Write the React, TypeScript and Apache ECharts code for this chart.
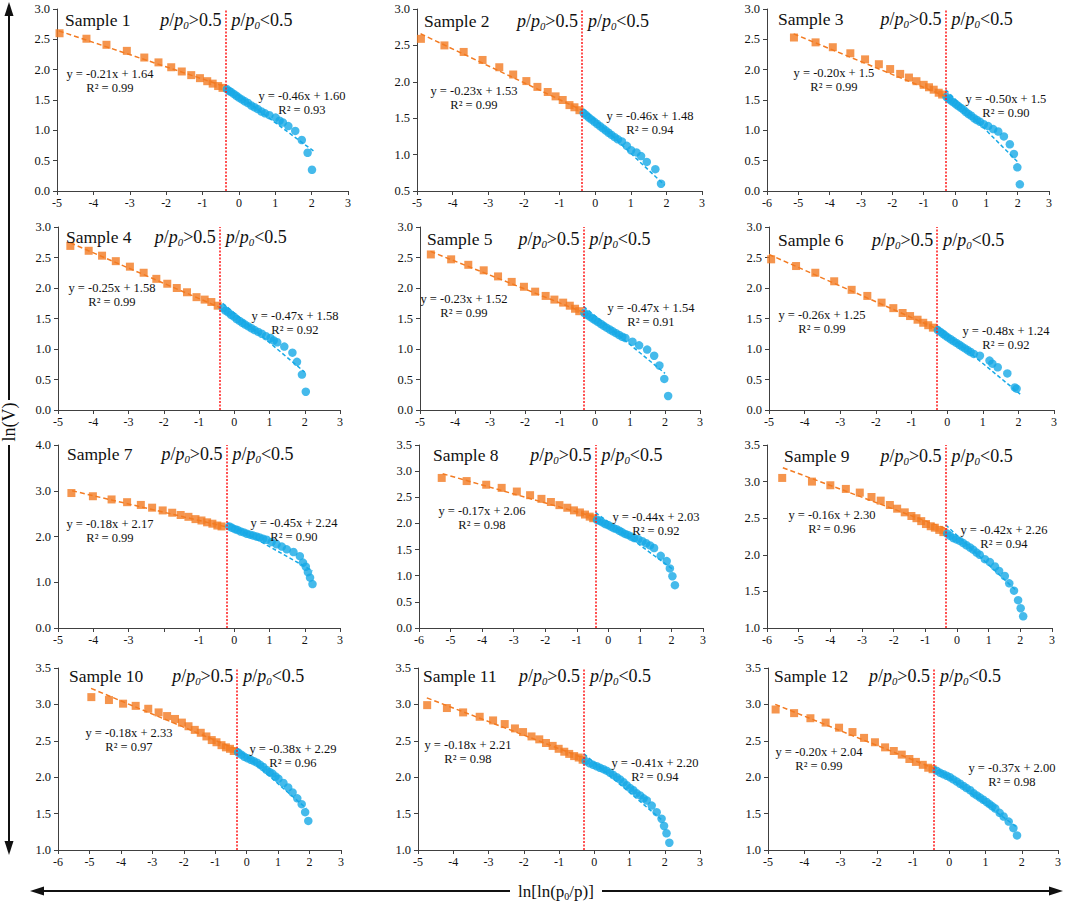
import { useEffect, useRef } from "react";
import * as echarts from "echarts";

// ---------- data ----------
const sampleNames = ["Sample 1", "Sample 2", "Sample 3", "Sample 4", "Sample 5", "Sample 6", "Sample 7", "Sample 8", "Sample 9", "Sample 10", "Sample 11", "Sample 12"];
const xMins = [-5, -5, -6, -5, -5, -5, -5, -6, -6, -6, -5, -5];
const xMaxs = [3, 3, 3, 3, 3, 3, 3, 3, 3, 3, 3, 3];
const yMins = [0, 0.5, 0, 0, 0, 0, 0, 0, 1, 1, 1, 1];
const yMaxs = [3, 3, 3, 3, 3, 3, 4, 3.5, 3.5, 3.5, 3.5, 3.5];
const yIntervals = [0.5, 0.5, 0.5, 0.5, 0.5, 0.5, 1, 0.5, 0.5, 0.5, 0.5, 0.5];
const hiddenXTicks = [[], [], [], [], [], [], [-2], [], [], [], [], []];
const splitX = [-0.37, -0.37, -0.3, -0.41, -0.33, -0.28, -0.22, -0.41, -0.36, -0.3, -0.29, -0.42];

const orangeS1 = [[-4.93, 2.6], [-4.19, 2.51], [-3.64, 2.41], [-3.08, 2.31], [-2.6, 2.2], [-2.21, 2.12], [-1.86, 2.04], [-1.57, 1.97], [-1.31, 1.91], [-1.07, 1.86], [-0.87, 1.81], [-0.72, 1.77], [-0.57, 1.73], [-0.45, 1.7]];
const blueS1 = [[-0.33, 1.68], [-0.27, 1.65], [-0.21, 1.63], [-0.14, 1.6], [-0.07, 1.57], [0.0, 1.54], [0.08, 1.51], [0.16, 1.48], [0.25, 1.45], [0.34, 1.41], [0.43, 1.38], [0.52, 1.35], [0.62, 1.31], [0.72, 1.28], [0.84, 1.25], [1.01, 1.21], [1.12, 1.16], [1.21, 1.13], [1.36, 1.07], [1.55, 0.99], [1.73, 0.84], [1.89, 0.63], [2.01, 0.35]];
const orangeS2 = [[-4.89, 2.59], [-4.23, 2.5], [-3.69, 2.41], [-3.16, 2.3], [-2.69, 2.2], [-2.3, 2.1], [-1.93, 2.01], [-1.62, 1.93], [-1.33, 1.86], [-1.11, 1.8], [-0.91, 1.75], [-0.72, 1.68], [-0.58, 1.65], [-0.44, 1.61]];
const blueS2 = [[-0.32, 1.57], [-0.25, 1.54], [-0.18, 1.51], [-0.1, 1.48], [-0.02, 1.45], [0.06, 1.42], [0.14, 1.39], [0.22, 1.36], [0.3, 1.33], [0.38, 1.3], [0.46, 1.27], [0.55, 1.24], [0.64, 1.21], [0.75, 1.18], [0.89, 1.12], [1.01, 1.06], [1.16, 1.03], [1.29, 0.98], [1.45, 0.9], [1.69, 0.8], [1.85, 0.6]];
const orangeS3 = [[-5.14, 2.53], [-4.45, 2.45], [-3.9, 2.37], [-3.34, 2.27], [-2.87, 2.17], [-2.43, 2.09], [-2.07, 2.01], [-1.75, 1.93], [-1.47, 1.87], [-1.23, 1.81], [-1.0, 1.75], [-0.83, 1.71], [-0.68, 1.67], [-0.52, 1.62], [-0.41, 1.59]];
const blueS3 = [[-0.27, 1.55], [-0.2, 1.52], [-0.13, 1.49], [-0.05, 1.46], [0.03, 1.43], [0.11, 1.4], [0.19, 1.37], [0.27, 1.34], [0.35, 1.3], [0.43, 1.27], [0.52, 1.24], [0.61, 1.2], [0.7, 1.17], [0.8, 1.14], [0.92, 1.1], [1.06, 1.07], [1.22, 1.02], [1.38, 0.98], [1.56, 0.9], [1.75, 0.77], [1.88, 0.61], [1.99, 0.39], [2.07, 0.11]];
const orangeS4 = [[-4.65, 2.69], [-4.13, 2.61], [-3.75, 2.53], [-3.36, 2.44], [-2.96, 2.35], [-2.57, 2.25], [-2.21, 2.15], [-1.9, 2.07], [-1.63, 2.0], [-1.34, 1.93], [-1.07, 1.85], [-0.84, 1.81], [-0.65, 1.77], [-0.47, 1.71]];
const blueS4 = [[-0.32, 1.67], [-0.25, 1.63], [-0.17, 1.6], [-0.09, 1.56], [-0.01, 1.53], [0.07, 1.49], [0.15, 1.46], [0.23, 1.43], [0.31, 1.4], [0.4, 1.37], [0.49, 1.34], [0.58, 1.31], [0.68, 1.28], [0.78, 1.25], [0.9, 1.21], [1.03, 1.18], [1.12, 1.14], [1.22, 1.11], [1.42, 1.04], [1.65, 0.94], [1.78, 0.79], [1.92, 0.58], [2.03, 0.3]];
const orangeS5 = [[-4.69, 2.55], [-4.11, 2.47], [-3.62, 2.38], [-3.18, 2.29], [-2.77, 2.19], [-2.38, 2.1], [-2.03, 2.02], [-1.71, 1.94], [-1.41, 1.87], [-1.16, 1.81], [-0.91, 1.76], [-0.72, 1.71], [-0.57, 1.66], [-0.45, 1.62]];
const blueS5 = [[-0.3, 1.59], [-0.23, 1.56], [-0.15, 1.53], [-0.07, 1.5], [0.01, 1.47], [0.09, 1.44], [0.17, 1.41], [0.25, 1.38], [0.33, 1.35], [0.42, 1.32], [0.51, 1.29], [0.6, 1.26], [0.69, 1.23], [0.78, 1.2], [0.87, 1.18], [1.07, 1.12], [1.26, 1.06], [1.49, 0.99], [1.69, 0.89], [1.84, 0.73], [1.98, 0.51], [2.09, 0.23]];
const orangeS6 = [[-4.94, 2.47], [-4.24, 2.36], [-3.7, 2.25], [-3.17, 2.11], [-2.68, 1.97], [-2.24, 1.87], [-1.84, 1.76], [-1.51, 1.67], [-1.25, 1.59], [-1.04, 1.54], [-0.83, 1.48], [-0.67, 1.43], [-0.53, 1.39], [-0.4, 1.35]];
const blueS6 = [[-0.26, 1.31], [-0.19, 1.28], [-0.12, 1.25], [-0.05, 1.22], [0.02, 1.19], [0.1, 1.16], [0.18, 1.13], [0.26, 1.1], [0.34, 1.07], [0.42, 1.04], [0.5, 1.01], [0.58, 0.98], [0.66, 0.95], [0.75, 0.92], [0.92, 0.89], [1.19, 0.81], [1.27, 0.76], [1.42, 0.7], [1.69, 0.6], [1.9, 0.37], [1.95, 0.35]];
const orangeS7 = [[-4.62, 2.95], [-4.01, 2.88], [-3.48, 2.81], [-3.04, 2.75], [-2.65, 2.69], [-2.33, 2.63], [-2.03, 2.57], [-1.76, 2.52], [-1.52, 2.47], [-1.3, 2.43], [-1.1, 2.38], [-0.93, 2.35], [-0.77, 2.31], [-0.62, 2.28], [-0.48, 2.24], [-0.36, 2.22]];
const blueS7 = [[-0.14, 2.22], [-0.06, 2.19], [0.02, 2.16], [0.1, 2.14], [0.18, 2.11], [0.27, 2.09], [0.36, 2.06], [0.45, 2.04], [0.54, 2.02], [0.63, 2.0], [0.72, 1.98], [0.82, 1.95], [0.92, 1.93], [1.06, 1.88], [1.2, 1.83], [1.35, 1.78], [1.49, 1.72], [1.68, 1.66], [1.86, 1.57], [1.95, 1.43], [2.03, 1.34], [2.09, 1.22], [2.15, 1.1], [2.22, 0.96]];
const orangeS8 = [[-5.28, 2.87], [-4.49, 2.81], [-3.87, 2.74], [-3.38, 2.68], [-2.9, 2.61], [-2.48, 2.54], [-2.12, 2.47], [-1.82, 2.41], [-1.55, 2.35], [-1.3, 2.3], [-1.09, 2.25], [-0.9, 2.21], [-0.74, 2.17], [-0.59, 2.13], [-0.48, 2.1]];
const blueS8 = [[-0.36, 2.07], [-0.28, 2.05], [-0.19, 2.02], [-0.1, 1.99], [-0.01, 1.97], [0.08, 1.94], [0.17, 1.91], [0.26, 1.89], [0.35, 1.86], [0.44, 1.83], [0.53, 1.8], [0.62, 1.78], [0.72, 1.75], [0.82, 1.72], [0.95, 1.7], [1.08, 1.66], [1.2, 1.62], [1.32, 1.58], [1.45, 1.53], [1.66, 1.38], [1.85, 1.28], [1.95, 1.14], [2.03, 0.99], [2.11, 0.82]];
const orangeS9 = [[-5.52, 3.05], [-4.58, 3.0], [-4.0, 2.95], [-3.51, 2.9], [-3.07, 2.85], [-2.7, 2.79], [-2.41, 2.74], [-2.12, 2.68], [-1.89, 2.63], [-1.65, 2.58], [-1.44, 2.53], [-1.28, 2.5], [-1.13, 2.46], [-0.98, 2.42], [-0.83, 2.39], [-0.7, 2.37], [-0.56, 2.34], [-0.43, 2.31]];
const blueS9 = [[-0.31, 2.29], [-0.22, 2.26], [-0.12, 2.23], [-0.02, 2.21], [0.09, 2.19], [0.2, 2.16], [0.3, 2.13], [0.41, 2.1], [0.51, 2.07], [0.62, 2.03], [0.72, 2.0], [0.88, 1.94], [1.04, 1.9], [1.2, 1.84], [1.33, 1.78], [1.51, 1.71], [1.65, 1.61], [1.8, 1.51], [1.93, 1.38], [2.01, 1.27], [2.09, 1.16]];
const orangeS10 = [[-4.94, 3.1], [-4.38, 3.06], [-3.93, 3.01], [-3.53, 2.98], [-3.13, 2.94], [-2.8, 2.89], [-2.53, 2.84], [-2.28, 2.8], [-2.06, 2.75], [-1.85, 2.7], [-1.65, 2.65], [-1.46, 2.61], [-1.28, 2.56], [-1.11, 2.51], [-0.96, 2.48], [-0.8, 2.44], [-0.66, 2.41], [-0.53, 2.39], [-0.41, 2.36]];
const blueS10 = [[-0.27, 2.34], [-0.17, 2.31], [-0.07, 2.28], [0.03, 2.26], [0.13, 2.24], [0.23, 2.22], [0.33, 2.2], [0.43, 2.17], [0.53, 2.14], [0.63, 2.1], [0.73, 2.07], [0.82, 2.05], [0.92, 2.01], [1.01, 1.98], [1.17, 1.92], [1.32, 1.86], [1.46, 1.79], [1.61, 1.71], [1.75, 1.63], [1.86, 1.52], [1.96, 1.4]];
const orangeS11 = [[-4.74, 2.99], [-4.18, 2.95], [-3.72, 2.89], [-3.25, 2.83], [-2.87, 2.78], [-2.54, 2.73], [-2.25, 2.67], [-2.02, 2.62], [-1.78, 2.56], [-1.56, 2.52], [-1.37, 2.47], [-1.18, 2.43], [-1.01, 2.39], [-0.85, 2.35], [-0.71, 2.32], [-0.57, 2.29], [-0.44, 2.27], [-0.33, 2.24]];
const blueS11 = [[-0.24, 2.22], [-0.13, 2.19], [-0.03, 2.17], [0.07, 2.15], [0.16, 2.13], [0.26, 2.11], [0.35, 2.09], [0.45, 2.06], [0.54, 2.03], [0.64, 2.0], [0.73, 1.97], [0.83, 1.93], [0.92, 1.89], [1.02, 1.85], [1.11, 1.82], [1.2, 1.78], [1.3, 1.75], [1.4, 1.71], [1.49, 1.68], [1.63, 1.61], [1.77, 1.52], [1.91, 1.43], [1.98, 1.33], [2.05, 1.23], [2.13, 1.1]];
const orangeS12 = [[-4.79, 2.93], [-4.28, 2.88], [-3.83, 2.81], [-3.41, 2.75], [-3.04, 2.68], [-2.67, 2.62], [-2.35, 2.54], [-2.05, 2.48], [-1.77, 2.41], [-1.53, 2.36], [-1.31, 2.31], [-1.1, 2.25], [-0.92, 2.21], [-0.73, 2.17], [-0.58, 2.13], [-0.46, 2.11]];
const blueS12 = [[-0.35, 2.09], [-0.25, 2.06], [-0.16, 2.04], [-0.07, 2.02], [0.02, 2.0], [0.11, 1.97], [0.21, 1.94], [0.3, 1.91], [0.39, 1.88], [0.48, 1.85], [0.58, 1.82], [0.67, 1.78], [0.76, 1.75], [0.85, 1.72], [0.94, 1.69], [1.03, 1.66], [1.11, 1.63], [1.19, 1.6], [1.27, 1.57], [1.39, 1.51], [1.5, 1.46], [1.64, 1.39], [1.77, 1.3], [1.87, 1.2]];

const orangeSets = [orangeS1, orangeS2, orangeS3, orangeS4, orangeS5, orangeS6, orangeS7, orangeS8, orangeS9, orangeS10, orangeS11, orangeS12];
const blueSets = [blueS1, blueS2, blueS3, blueS4, blueS5, blueS6, blueS7, blueS8, blueS9, blueS10, blueS11, blueS12];

const orangeFits = [
  [[-4.95, 2.64], [-0.37, 1.72]], [[-4.9, 2.66], [-0.37, 1.61]], [[-5.15, 2.59], [-0.3, 1.56]],
  [[-4.65, 2.74], [-0.41, 1.68]], [[-4.7, 2.6], [-0.33, 1.6]], [[-5.0, 2.55], [-0.28, 1.33]],
  [[-4.6, 3.0], [-0.22, 2.21]], [[-5.25, 2.95], [-0.41, 2.12]], [[-5.5, 3.19], [-0.36, 2.36]],
  [[-4.95, 3.22], [-0.3, 2.38]], [[-4.75, 3.09], [-0.29, 2.26]], [[-4.8, 3.0], [-0.42, 2.12]],
];
const blueFits = [
  [[-0.33, 1.72], [2.05, 0.66]], [[-0.33, 1.63], [1.95, 0.58]], [[-0.3, 1.67], [2.0, 0.48]],
  [[-0.33, 1.75], [2.0, 0.62]], [[-0.33, 1.7], [2.0, 0.6]], [[-0.28, 1.38], [2.05, 0.26]],
  [[-0.2, 2.3], [2.22, 1.25]], [[-0.41, 2.21], [2.05, 1.12]], [[-0.36, 2.41], [1.85, 1.52]],
  [[-0.3, 2.4], [1.9, 1.57]], [[-0.29, 2.32], [1.9, 1.42]], [[-0.42, 2.15], [1.85, 1.32]],
];

const orangeEqs = ["y = -0.21x + 1.64", "y = -0.23x + 1.53", "y = -0.20x + 1.5", "y = -0.25x + 1.58", "y = -0.23x + 1.52", "y = -0.26x + 1.25", "y = -0.18x + 2.17", "y = -0.17x + 2.06", "y = -0.16x + 2.30", "y = -0.18x + 2.33", "y = -0.18x + 2.21", "y = -0.20x + 2.04"];
const orangeR2 = ["0.99", "0.99", "0.99", "0.99", "0.99", "0.99", "0.99", "0.98", "0.96", "0.97", "0.98", "0.99"];
const blueEqs = ["y = -0.46x + 1.60", "y = -0.46x + 1.48", "y = -0.50x + 1.5", "y = -0.47x + 1.58", "y = -0.47x + 1.54", "y = -0.48x + 1.24", "y = -0.45x + 2.24", "y = -0.44x + 2.03", "y = -0.42x + 2.26", "y = -0.38x + 2.29", "y = -0.41x + 2.20", "y = -0.37x + 2.00"];
const blueR2 = ["0.93", "0.94", "0.90", "0.92", "0.91", "0.92", "0.90", "0.92", "0.94", "0.96", "0.94", "0.98"];

// ---------- layout (pixels) ----------
const gridBoxes = [
  [57, 9, 348, 191], [417, 9, 702, 191], [767, 9, 1049, 191],
  [58, 227, 340, 410], [420, 227, 700, 410], [769, 227, 1054, 410],
  [58, 445, 340, 628], [419, 445, 703, 628], [767, 445, 1052, 628],
  [58, 668, 341, 850], [418, 668, 700, 850], [768, 668, 1058, 850],
];
const sampleLabelPos = [[65, 20], [424, 21], [778, 19], [66, 237], [427, 239], [778, 240], [67, 454], [433, 455], [784, 456], [69, 676], [423, 676], [774, 676]];
const orangeEqPos = [[110, 74], [474, 91], [834, 73], [112, 288], [464, 299], [822, 315], [110, 524], [482, 511], [832, 515], [129, 733], [468, 745], [819, 752]];
const blueEqPos = [[302, 96], [650, 116], [1006, 99], [295, 316], [651, 308], [1006, 331], [294, 523], [656, 517], [1004, 530], [293, 749], [655, 763], [1012, 768]];

const ORANGE = "#F37B22";
const BLUE = "#17A9E6";
const AXIS = "#404040";
const SERIF = "Liberation Serif";

function ratioRich(size: number) {
  return {
    i: { fontStyle: "italic", fontSize: size, fontFamily: SERIF, lineHeight: 20, fill: "#111" },
    n: { fontSize: size, fontFamily: SERIF, lineHeight: 20, fill: "#111" },
    s: { fontStyle: "italic", fontSize: size * 0.6, fontFamily: SERIF, lineHeight: 8, verticalAlign: "bottom", fill: "#111" },
  };
}

function textEl(text: string, x: number, y: number, font: number, align: string, vAlign: string, extra: any = {}) {
  return {
    type: "text",
    z: 100,
    style: {
      text, x, y,
      fontSize: font, fontFamily: SERIF, fill: "#111",
      align, verticalAlign: vAlign, textAlign: align, textVerticalAlign: vAlign,
      ...extra,
    },
  };
}

export default function App() {
  const ref = useRef<HTMLDivElement>(null);
  useEffect(() => {
    if (!ref.current) return;
    const chart = echarts.init(ref.current, undefined, { renderer: "svg" });
    const grids: any[] = [];
    const xAxes: any[] = [];
    const yAxes: any[] = [];
    const series: any[] = [];
    const graphics: any[] = [];

    for (let i = 0; i < 12; i++) {
      const [l, t, r, b] = gridBoxes[i];
      grids.push({ left: l, top: t, width: r - l, height: b - t, containLabel: false, outerBoundsMode: "none", show: false });
      const hid = hiddenXTicks[i];
      xAxes.push({
        type: "value", gridIndex: i, min: xMins[i], max: xMaxs[i], interval: 1,
        axisLine: { show: true, onZero: false, lineStyle: { color: AXIS, width: 1 } },
        axisTick: { show: true, length: 4, lineStyle: { color: AXIS } },
        splitLine: { show: false },
        axisLabel: {
          color: "#111", fontSize: 12, fontFamily: SERIF, margin: 6,
          formatter: (v: number) => (hid.indexOf(v) >= 0 ? "" : String(v)),
        },
      });
      yAxes.push({
        type: "value", gridIndex: i, min: yMins[i], max: yMaxs[i], interval: yIntervals[i],
        axisLine: { show: true, onZero: false, lineStyle: { color: AXIS, width: 1 } },
        axisTick: { show: true, length: 4, lineStyle: { color: AXIS } },
        splitLine: { show: false },
        axisLabel: { color: "#111", fontSize: 12.5, fontFamily: SERIF, margin: 7, formatter: (v: number) => v.toFixed(1) },
      });
      series.push({
        type: "scatter", xAxisIndex: i, yAxisIndex: i, data: orangeSets[i],
        symbol: "rect", symbolSize: 8, itemStyle: { color: ORANGE }, z: 2,
        markLine: {
          silent: true, symbol: ["none", "none"], label: { show: false },
          lineStyle: { color: "#FF1A1A", width: 1.5, type: [2, 1.5] },
          data: [{ xAxis: splitX[i] }],
        },
      });
      series.push({
        type: "scatter", xAxisIndex: i, yAxisIndex: i, data: blueSets[i],
        symbol: "circle", symbolSize: 8.5, itemStyle: { color: BLUE }, z: 2,
      });
      series.push({
        type: "line", xAxisIndex: i, yAxisIndex: i, data: orangeFits[i], showSymbol: false, symbol: "none",
        lineStyle: { color: ORANGE, width: 1.5, type: [5, 3] }, z: 4,
      });
      series.push({
        type: "line", xAxisIndex: i, yAxisIndex: i, data: blueFits[i], showSymbol: false, symbol: "none",
        lineStyle: { color: BLUE, width: 1.5, type: [4, 2.5] }, z: 4,
      });

      // annotations
      const [sx, sy] = sampleLabelPos[i];
      graphics.push(textEl(sampleNames[i], sx, sy, 17.5, "left", "middle"));
      const lineX = l + ((splitX[i] - xMins[i]) / (xMaxs[i] - xMins[i])) * (r - l);
      graphics.push({
        type: "text", z: 100,
        style: {
          text: "{i|p}{n|/}{i|p}{s|0}{n|>0.5}", x: lineX - 4, y: sy,
          align: "right", verticalAlign: "middle", textAlign: "right", textVerticalAlign: "middle",
          fontSize: 18, fontFamily: SERIF, fill: "#111", rich: ratioRich(18),
        },
      });
      graphics.push({
        type: "text", z: 100,
        style: {
          text: "{i|p}{n|/}{i|p}{s|0}{n|<0.5}", x: lineX + 6, y: sy,
          align: "left", verticalAlign: "middle", textAlign: "left", textVerticalAlign: "middle",
          fontSize: 18, fontFamily: SERIF, fill: "#111", rich: ratioRich(18),
        },
      });
      const [ox, oy] = orangeEqPos[i];
      graphics.push(textEl(orangeEqs[i] + "\nR² = " + orangeR2[i], ox, oy - 7, 12.5, "center", "top", { lineHeight: 14 }));
      const [bx, by] = blueEqPos[i];
      graphics.push(textEl(blueEqs[i] + "\nR² = " + blueR2[i], bx, by - 7, 12.5, "center", "top", { lineHeight: 14 }));
    }

    // outer axis arrows
    const arrowStyle = { stroke: "#111", lineWidth: 2 };
    graphics.push({ type: "line", z: 90, shape: { x1: 9, y1: 14, x2: 9, y2: 400 }, style: arrowStyle });
    graphics.push({ type: "line", z: 90, shape: { x1: 9, y1: 445, x2: 9, y2: 843 }, style: arrowStyle });
    graphics.push({ type: "polygon", z: 90, shape: { points: [[9, 2], [4.5, 16], [13.5, 16]] }, style: { fill: "#111" } });
    graphics.push({ type: "polygon", z: 90, shape: { points: [[9, 855], [4.5, 841], [13.5, 841]] }, style: { fill: "#111" } });
    graphics.push({
      type: "text", z: 100, x: 9, y: 422, rotation: Math.PI / 2,
      style: {
        text: "ln(V)", x: 0, y: 0, align: "center", verticalAlign: "middle", textAlign: "center", textVerticalAlign: "middle",
        fontSize: 18, fontFamily: SERIF, fill: "#111",
      },
    });
    graphics.push({ type: "line", z: 90, shape: { x1: 42, y1: 891, x2: 510, y2: 891 }, style: arrowStyle });
    graphics.push({ type: "line", z: 90, shape: { x1: 602, y1: 891, x2: 1052, y2: 891 }, style: arrowStyle });
    graphics.push({ type: "polygon", z: 90, shape: { points: [[30, 891], [44, 886.5], [44, 895.5]] }, style: { fill: "#111" } });
    graphics.push({ type: "polygon", z: 90, shape: { points: [[1063, 891], [1049, 886.5], [1049, 895.5]] }, style: { fill: "#111" } });
    graphics.push({
      type: "text", z: 100,
      style: {
        text: "{n|ln[ln(p}{s|0}{n|/p)]}", x: 556, y: 891,
        align: "center", verticalAlign: "middle", textAlign: "center", textVerticalAlign: "middle",
        fontSize: 17, fontFamily: SERIF, fill: "#111",
        rich: {
          n: { fontSize: 17, fontFamily: SERIF, lineHeight: 20, fill: "#111" },
          s: { fontSize: 10, fontFamily: SERIF, lineHeight: 8, verticalAlign: "bottom", fill: "#111" },
        },
      },
    });

    chart.setOption({
      animation: false,
      backgroundColor: "#ffffff",
      grid: grids,
      xAxis: xAxes,
      yAxis: yAxes,
      series,
      graphic: { elements: graphics },
    });
    return () => chart.dispose();
  }, []);
  return <div ref={ref} style={{ position: "absolute", left: 0, top: 0, width: 1065, height: 901 }} />;
}
